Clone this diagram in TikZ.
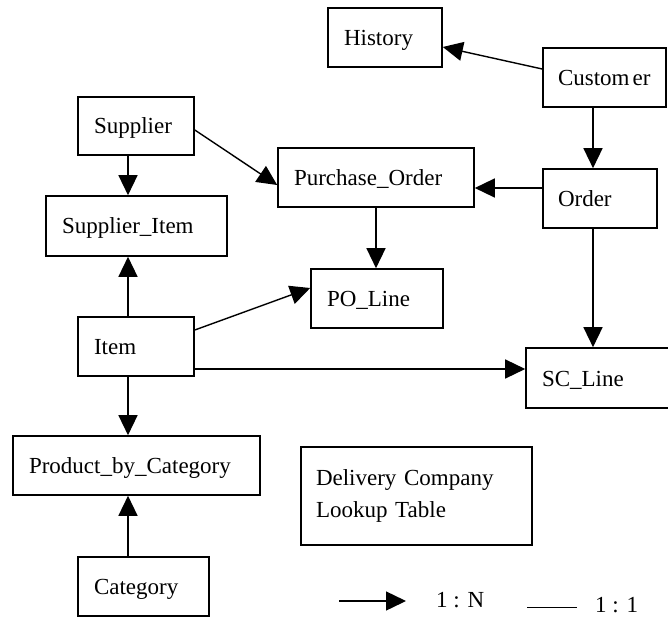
\documentclass[tikz,border=0pt]{standalone}
\usepackage{fontspec}
\setmainfont{Liberation Serif}
\usetikzlibrary{arrows.meta,calc}

\begin{document}
\begin{tikzpicture}[x=1pt,y=-1pt,
  ent/.style={draw, line width=1.6pt, rectangle, inner xsep=16pt, inner ysep=0pt,
    minimum height=59pt, text height=16pt, text depth=0pt, align=left,
    font=\fontsize{23}{32}\selectfont},
  rel/.style={line width=1.4pt, -{Triangle[length=20pt,width=19pt]}},
  lbl/.style={font=\fontsize{23}{32}\selectfont, inner sep=0pt}
]
\useasboundingbox (0,0) rectangle (668,617);

% entities
\node[ent, text width=82pt]  (hist) at (385,37.5)   {History};
\node[ent, inner xsep=15pt, text width=93pt]  (cust) at (604.5,77.5) {Custom\kern3pt er};
\node[ent, text width=84pt, minimum height=58pt]  (sup)  at (136,126) {Supplier};
\node[ent, text width=164pt] (po)   at (376,177.5)  {Purchase\_Order};
\node[ent, text width=84pt, inner xsep=15pt]  (ord)  at (600,198.5)  {Order};
\node[ent, text width=149pt, minimum height=60pt] (supi) at (136.5,226) {Supplier\_Item};
\node[ent, text width=100pt] (pol)  at (377,298.5)  {PO\_Line};
\node[ent, text width=84pt]  (item) at (136,346.5)  {Item};
\node[ent, text width=111.5pt, minimum height=60pt] (scl) at (597.75,378) {SC\_Line};
\node[ent, text width=215pt] (pbc)  at (136.5,465.5) {Product\_by\_Category};
\node[ent, text width=99pt]  (cat)  at (143.5,586.5) {Category};
\node[draw, line width=1.6pt, rectangle, inner xsep=15pt, text width=201pt,
      minimum height=98pt, align=left, font=\fontsize{23}{32}\selectfont]
      (dc) at (416.5,496) {Delivery Company\\Lookup Table};

% relationships (1 : N)
\draw[rel] ($(cust.west)+(0,-8.5)$) -- ($(hist.east)+(0,9.5)$);
\draw[rel] ($(cust.south)+(-11.5,0)$) -- ($(ord.north)+(-7,0)$);
\draw[rel] ($(ord.west)+(0,-10.5)$) -- ($(po.east)+(0,10.5)$);
\draw[rel] (po.south) -- (po.south |- pol.north);
\draw[rel] ($(sup.east)+(0,4)$) -- ($(po.west)+(0,7.5)$);
\draw[rel] ($(sup.south)+(-8,0)$) -- ($(supi.north)+(-8.5,0)$);
\draw[rel] ($(item.north)+(-8,0)$) -- ($(supi.south)+(-8.5,0)$);
\draw[rel] ($(item.east)+(0,-16.5)$) -- ($(pol.west)+(0,-10.5)$);
\draw[rel] ($(item.east)+(0,22.5)$) -- ($(scl.west)+(0,-9)$);
\draw[rel] ($(ord.south)+(-7,0)$) -- ($(scl.north)+(-4.75,0)$);
\draw[rel] ($(item.south)+(-8,0)$) -- ($(pbc.north)+(-8.5,0)$);
\draw[rel] ($(cat.north)+(-15.5,0)$) -- ($(pbc.south)+(-8.5,0)$);

% legend
\coordinate (kna) at (339,601);
\coordinate (knb) at (406,601);
\draw[rel] (kna) -- (knb);
\node[lbl, anchor=base west] (kn) at (436,607) {1 : N};
\coordinate (koa) at (527,607.5);
\coordinate (kob) at (577,607.5);
\draw[line width=1.4pt] (koa) -- (kob);
\node[lbl, anchor=base west] (ko) at (595,612) {1 : 1};
\end{tikzpicture}
\end{document}
